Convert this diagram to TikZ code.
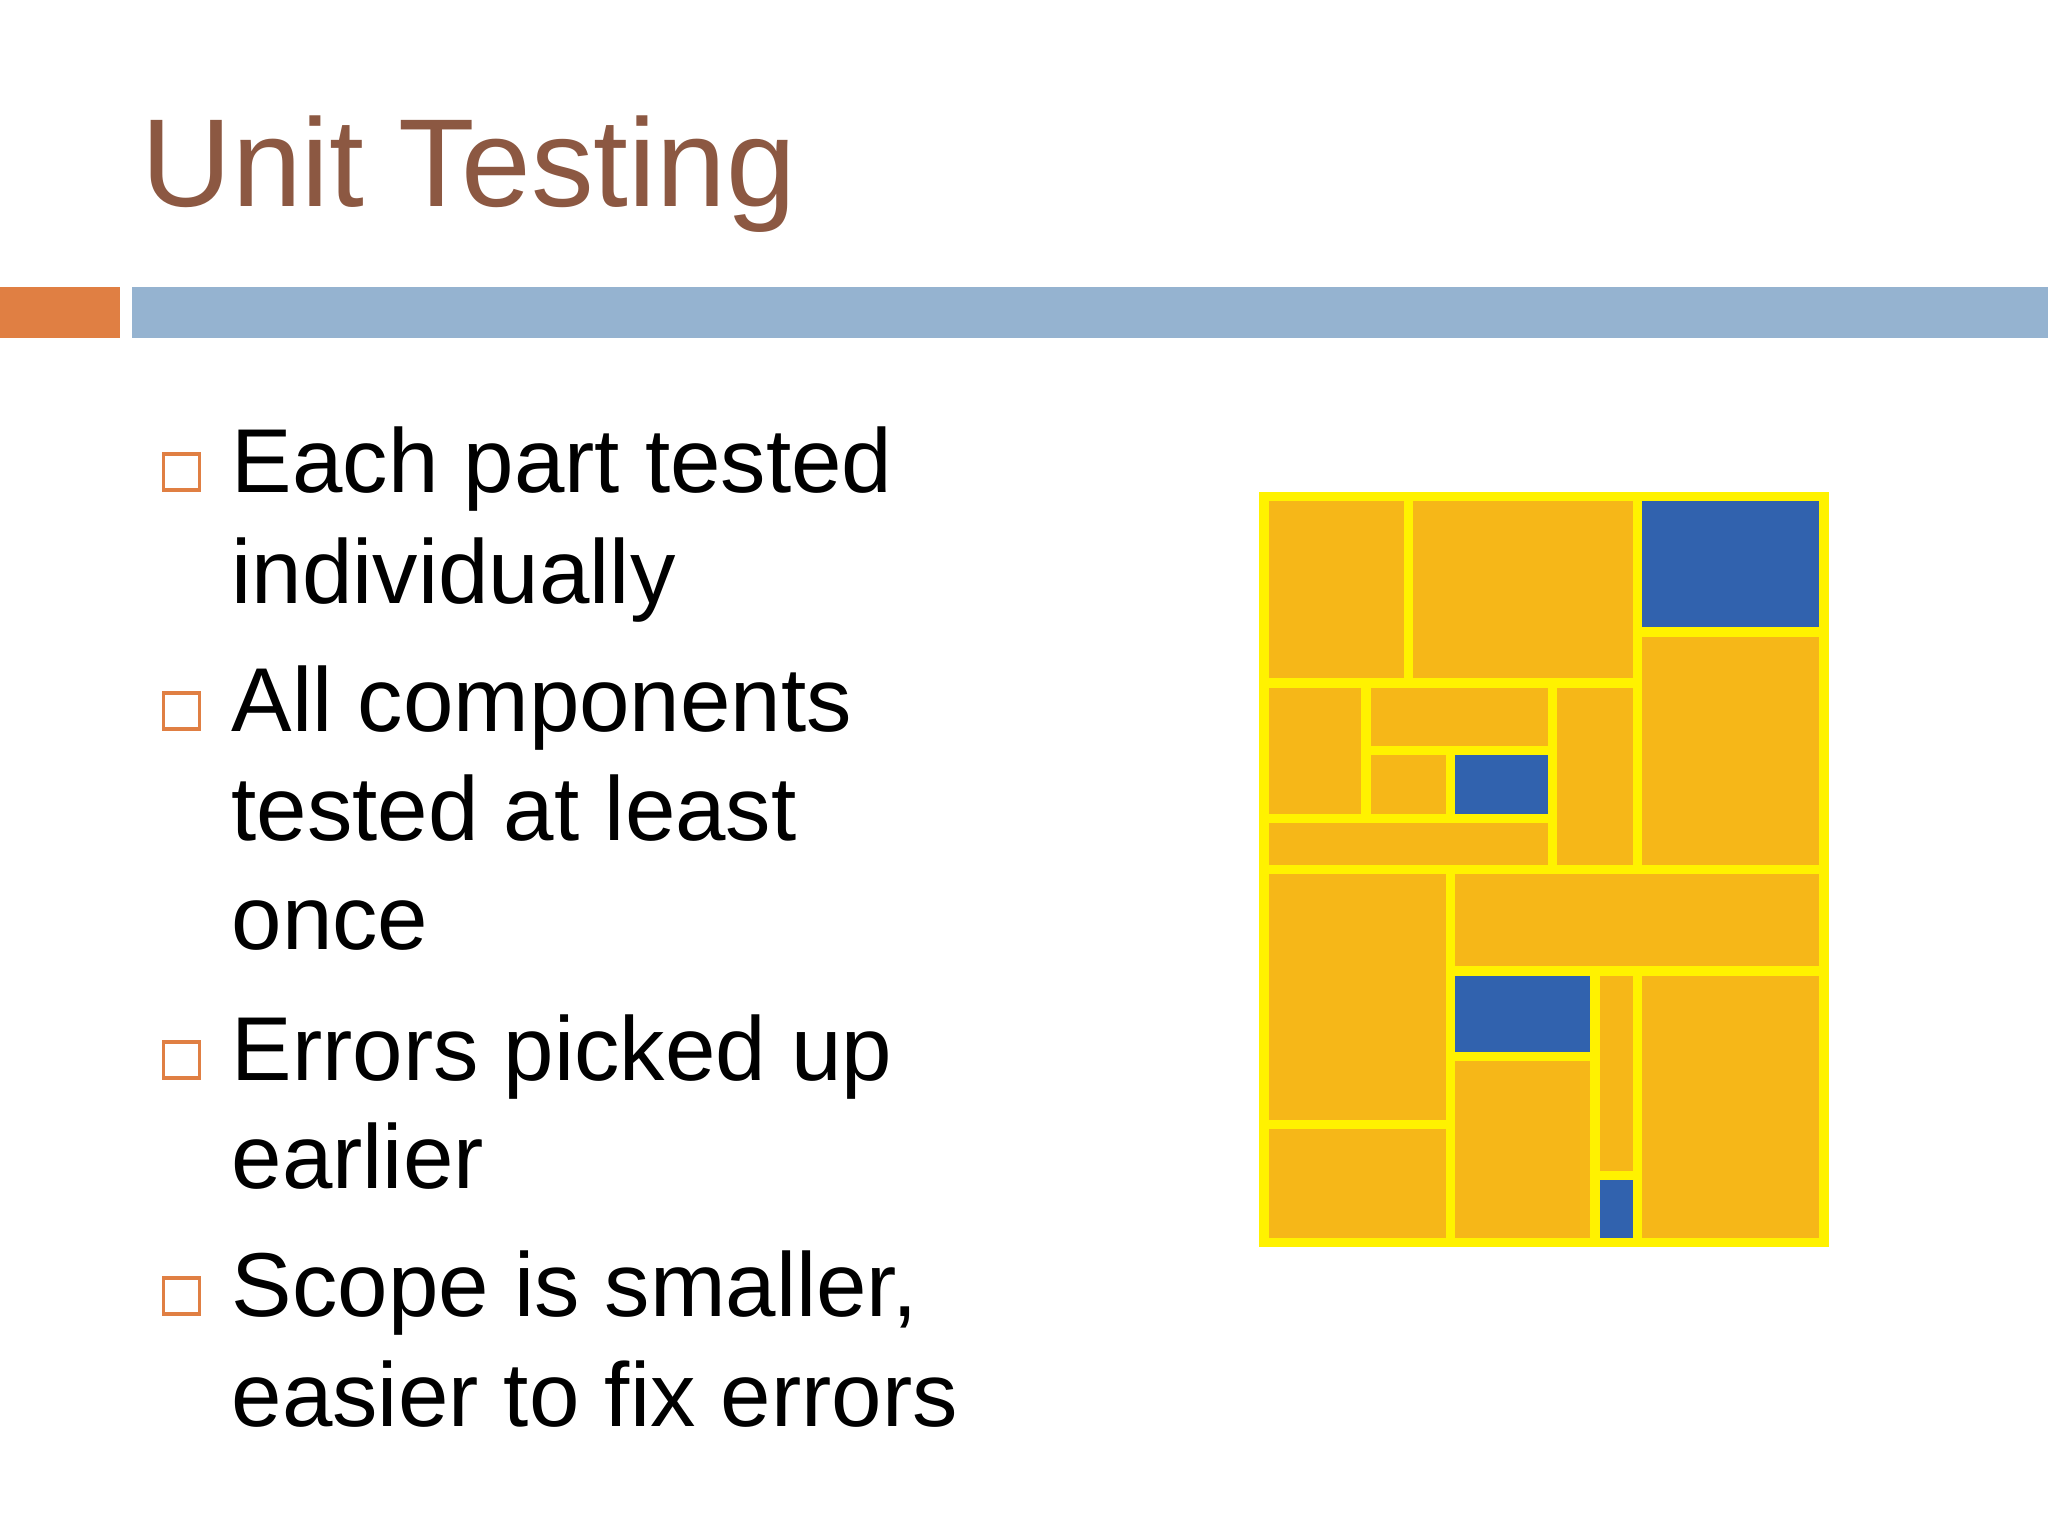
\documentclass[tikz,border=0pt]{standalone}
\usepackage{fontspec}
\setmainfont{Liberation Sans}

\definecolor{titlebrown}{RGB}{140,88,66}
\definecolor{accorange}{RGB}{224,127,67}
\definecolor{accblue}{RGB}{149,179,208}
\definecolor{tileorange}{RGB}{246,183,24}
\definecolor{tileblue}{RGB}{49,98,174}

\begin{document}
\begin{tikzpicture}
		[x=0.01cm,y=-0.01cm,
		 bx/.style= {draw=accorange,line width=1pt,rectangle,minimum size=10.2pt,inner sep=0pt},
		 ln/.style= {anchor=base west,inner sep=0pt,font=\fontsize{25.8}{31}\selectfont},
		 tile/.style= {draw=yellow,line width=2.6pt,fill=tileorange},
		 btile/.style= {tile,fill=tileblue}]

		\useasboundingbox[fill=white] (0,0) rectangle (2048,1536);

		% title and bar
		\node[anchor=base west,inner sep=0pt,text=titlebrown,font=\fontsize{35.6}{42}\selectfont] (title) at (141,206) {Unit Testing}
		;
		\fill[accorange] (0,287) rectangle (120,338);
		\fill[accblue] (132,287) rectangle (2048,338);

		% bullets
		\node[bx] (b1) at (181.5,472) {};
		\node[ln] (l1) at (231,492) {Each part tested};
		\node[ln] (l2) at (231,603) {individually};

		\node[bx] (b2) at (181.5,711) {};
		\node[ln] (l3) at (231,731) {All components};
		\node[ln] (l4) at (231,840) {tested at least};
		\node[ln] (l5) at (231,949) {once};

		\node[bx] (b3) at (181.5,1060) {};
		\node[ln] (l6) at (231,1080) {Errors picked up};
		\node[ln] (l7) at (231,1188) {earlier};

		\node[bx] (b4) at (181.5,1296) {};
		\node[ln] (l8) at (231,1316) {Scope is smaller,};
		\node[ln] (l9) at (231,1426) {easier to fix errors};

		% tiles
		\draw[tile]  (1264,496.5) rectangle (1408.6,683);
		\draw[tile]  (1408.6,496.5) rectangle (1637.4,683);
		\draw[btile] (1637.4,496.5) rectangle (1824,632);
		\draw[tile]  (1637.4,632) rectangle (1824,869.5);
		\draw[tile]  (1264,683) rectangle (1366,818.5);
		\draw[tile]  (1366,683) rectangle (1552.6,750.8);
		\draw[tile]  (1366,750.8) rectangle (1450.8,818.5);
		\draw[btile] (1450.8,750.8) rectangle (1552.6,818.5);
		\draw[tile]  (1264,818.5) rectangle (1552.6,869.5);
		\draw[tile]  (1552.6,683) rectangle (1637.4,869.5);
		\draw[tile]  (1264,869.5) rectangle (1450.8,1124.2);
		\draw[tile]  (1264,1124.2) rectangle (1450.8,1242.5);
		\draw[tile]  (1450.8,869.5) rectangle (1824,971);
		\draw[btile] (1450.8,971) rectangle (1595,1056.2);
		\draw[tile]  (1450.8,1056.2) rectangle (1595,1242.5);
		\draw[tile]  (1595,971) rectangle (1637.4,1175.5);
		\draw[btile] (1595,1175.5) rectangle (1637.4,1242.5);
		\draw[tile]  (1637.4,971) rectangle (1824,1242.5);

	\end{tikzpicture}
\end{document}
